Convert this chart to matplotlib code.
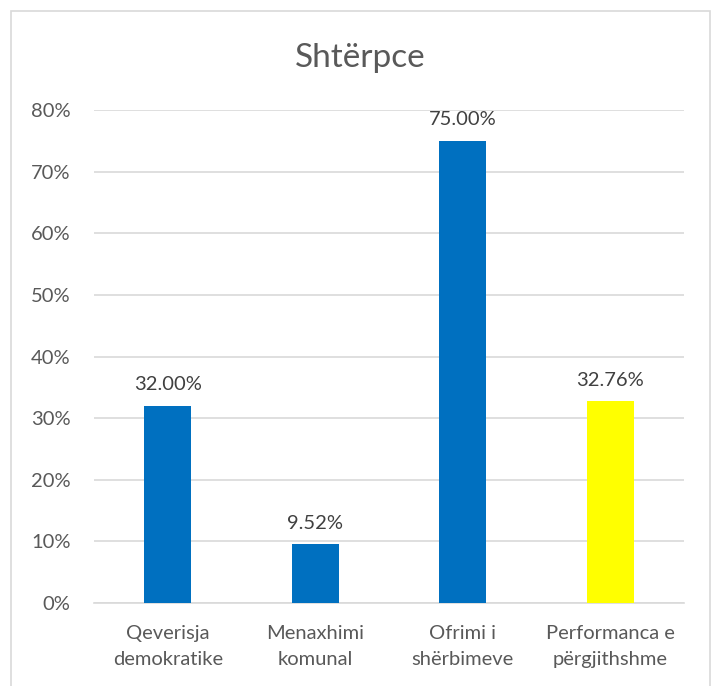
import matplotlib
matplotlib.use("Agg")
import matplotlib.pyplot as plt
from matplotlib.patches import Rectangle
from matplotlib.ticker import FuncFormatter, MultipleLocator

categories = ["Qeverisja\ndemokratike", "Menaxhimi\nkomunal", "Ofrimi i\nshërbimeve", "Performanca e\npërgjithshme"]
values = [32.00, 9.52, 75.00, 32.76]
colors = ["#0070C0", "#0070C0", "#0070C0", "#FFFF00"]
title = "Shtërpce"

plt.rcParams['font.family'] = ['Lato', 'DejaVu Sans']
txt = "#595959"

fig = plt.figure(figsize=(7.14, 6.86), dpi=100)
fig.patches.append(Rectangle((11/714, -0.02), (710-11)/714, 1 - 11/686 + 0.02,
                             transform=fig.transFigure, fill=False,
                             edgecolor="#D9D9D9", linewidth=1.2))
ax = fig.add_axes([94/714, 1-603/686, (684-94)/714, (603-110)/686])
x = range(len(categories))
bars = ax.bar(x, values, width=0.32, color=colors, zorder=3)
ax.set_ylim(0, 80)
ax.set_xlim(-0.5, len(categories)-0.5)
ax.yaxis.set_major_locator(MultipleLocator(10))
ax.yaxis.set_major_formatter(FuncFormatter(lambda v, p: f"{v:.0f}%"))
ax.grid(axis='y', color="#D9D9D9", linewidth=1.2, zorder=0)
for s in ["top", "right", "left"]:
    ax.spines[s].set_visible(False)
ax.spines["bottom"].set_color("#D9D9D9")
ax.spines["bottom"].set_linewidth(1.2)
ax.tick_params(axis='both', length=0, colors=txt, labelsize=14.5)
ax.tick_params(axis='y', pad=17)
ax.tick_params(axis='x', pad=16)
ax.set_xticks(list(x))
ax.set_xticklabels(categories, linespacing=1.6)
for b, v in zip(bars, values):
    ax.annotate(f"{v:.2f}%", (b.get_x() + b.get_width()/2, v), xytext=(0, 9),
                textcoords="offset points", ha="center", va="bottom",
                fontsize=14.5, color="#404040")
fig.text((11+710)/2/714, 1-58/686, title, ha="center", va="center", fontsize=24, color=txt)
fig.savefig("out.png", dpi=100)
